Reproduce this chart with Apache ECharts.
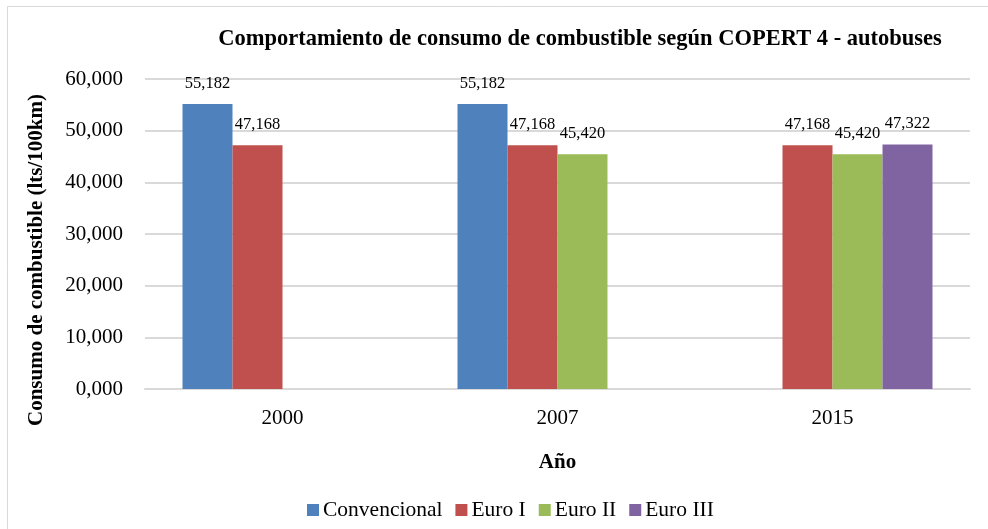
<!DOCTYPE html>
<html>
<head>
<meta charset="utf-8">
<script src="https://cdn.jsdelivr.net/npm/echarts@6/dist/echarts.min.js"></script>
<style>
  html, body { margin: 0; padding: 0; background: #fff; }
  #chart { width: 988px; height: 529px; }
</style>
</head>
<body>
<div id="chart"></div>
<script>
// Consumo de combustible (lts/100km) por norma de emisiones, COPERT 4 - autobuses
const years = ['2000', '2007', '2015'];
const convencional = [55.182, 55.182, null];
const euroI = [47.168, 47.168, 47.168];
const euroII = [null, 45.420, 45.420];
const euroIII = [null, null, 47.322];
const yTicks = [0, 10, 20, 30, 40, 50, 60];

const FONT = '"Liberation Serif", "DejaVu Serif", serif';
const fmt = v => Number(v).toFixed(3).replace('.', ',');

function barSeries(name, data, color) {
  return {
    name: name,
    type: 'bar',
    data: data,
    barWidth: 50,
    barGap: '0%',
    itemStyle: { color: color },
    label: {
      show: true,
      position: 'top',
      distance: 12,
      fontFamily: FONT,
      fontSize: 16.5,
      color: '#000',
      formatter: p => fmt(p.value)
    }
  };
}

const chart = echarts.init(document.getElementById('chart'));
chart.setOption({
  animation: false,
  backgroundColor: '#fff',
  graphic: [
    { type: 'line', shape: { x1: 7.5, y1: 6.5, x2: 988, y2: 6.5 }, style: { stroke: '#d9d9d9', lineWidth: 1 } },
    { type: 'line', shape: { x1: 7.5, y1: 6.5, x2: 7.5, y2: 529 }, style: { stroke: '#d9d9d9', lineWidth: 1 } },
    {
      type: 'text',
      x: 37,
      y: 260,
      rotation: Math.PI / 2,
      style: {
        text: 'Consumo de combustible (lts/100km)',
        font: 'bold 21px ' + FONT,
        fill: '#000',
        textAlign: 'center',
        textVerticalAlign: 'middle'
      }
    }
  ],
  title: {
    text: 'Comportamiento de consumo de combustible según COPERT 4 - autobuses',
    left: 575,
    textAlign: 'center',
    top: 23,
    textStyle: { fontFamily: FONT, fontWeight: 'bold', fontSize: 22.5, color: '#000' }
  },
  legend: {
    left: 302,
    top: 494,
    itemWidth: 12,
    itemHeight: 12,
    itemGap: 13,
    icon: 'rect',
    textStyle: { fontFamily: FONT, fontSize: 21.5, color: '#000', padding: [0, 0, 0, -1] },
    data: ['Convencional', 'Euro I', 'Euro II', 'Euro III']
  },
  grid: { left: 145, right: 18, top: 79, bottom: 140 },
  xAxis: {
    type: 'category',
    data: years,
    name: 'Año',
    nameLocation: 'middle',
    nameGap: 63,
    nameTextStyle: { fontFamily: FONT, fontWeight: 'bold', fontSize: 21, color: '#000' },
    axisTick: { show: false },
    axisLine: { lineStyle: { color: '#d9d9d9', width: 2 } },
    axisLabel: { fontFamily: FONT, fontSize: 21, color: '#000', margin: 19 }
  },
  yAxis: {
    type: 'value',
    min: yTicks[0],
    max: yTicks[yTicks.length - 1],
    interval: 10,
    axisLine: { show: false },
    axisTick: { show: false },
    splitLine: { lineStyle: { color: '#d9d9d9', width: 2 } },
    axisLabel: { fontFamily: FONT, fontSize: 21, color: '#000', margin: 22, formatter: v => fmt(v) }
  },
  series: [
    barSeries('Convencional', convencional, '#4f81bd'),
    barSeries('Euro I', euroI, '#c0504d'),
    barSeries('Euro II', euroII, '#9bbb59'),
    barSeries('Euro III', euroIII, '#8064a2')
  ]
});
</script>
</body>
</html>
